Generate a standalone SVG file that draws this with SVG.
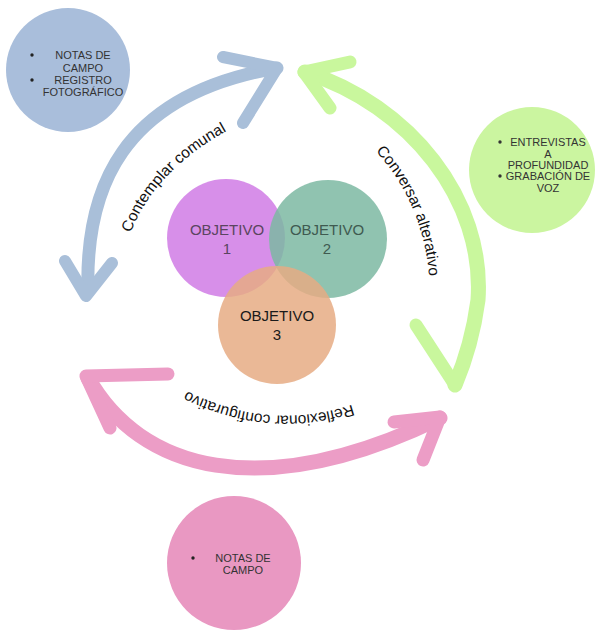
<svg xmlns="http://www.w3.org/2000/svg" width="596" height="632" viewBox="0 0 596 632">
<style>
.arr{fill:none;stroke-linecap:round;stroke-linejoin:round}
.blue{stroke:#a9bfd9}
.green{stroke:#c9f79d}
.pink{stroke:#ec9dc6}
.lbl{font-family:"Liberation Sans",Arial,sans-serif;font-size:15.5px;fill:#111}
.obj{font-family:"Liberation Sans",Arial,sans-serif;font-size:15px;text-anchor:middle}
.note{font-family:"Liberation Sans",Arial,sans-serif;font-size:11px;text-anchor:middle;fill:#333}
</style>
<defs>
<path id="pBlue" d="M 126,247 Q 148,170 240,124"/>
<path id="pGreen" d="M 369,144 Q 425,200 430,286"/>
<path id="pPink" d="M 370,398 Q 270,440 170,382"/>
</defs>
<rect width="596" height="632" fill="#fff"/>

<g id="note-blue">
<circle cx="68" cy="70" r="62" fill="#a9bedb"/>
<circle cx="32" cy="55" r="1.7" fill="#222"/>
<circle cx="32" cy="80" r="1.7" fill="#222"/>
<text class="note" x="83" y="59">NOTAS DE</text>
<text class="note" x="83" y="72">CAMPO</text>
<text class="note" x="83" y="84">REGISTRO</text>
<text class="note" x="83" y="96">FOTOGRÁFICO</text>
</g>

<g id="note-green">
<circle cx="532" cy="170" r="63" fill="#cbf5a0"/>
<circle cx="500" cy="142" r="1.7" fill="#333"/>
<circle cx="500" cy="176" r="1.7" fill="#333"/>
<text class="note" x="548" y="146">ENTREVISTAS</text>
<text class="note" x="548" y="157.5">A</text>
<text class="note" x="548" y="168.5">PROFUNDIDAD</text>
<text class="note" x="548" y="180">GRABACIÓN DE</text>
<text class="note" x="548" y="192">VOZ</text>
</g>

<g id="note-pink">
<circle cx="234" cy="563" r="67" fill="#e998c2"/>
<circle cx="193" cy="558" r="1.7" fill="#222"/>
<text class="note" x="243" y="562">NOTAS DE</text>
<text class="note" x="243" y="574">CAMPO</text>
</g>

<g id="connectors">
<g id="arrow-blue">
<path class="arr blue" stroke-width="13" d="M 88,292 C 85,190 120,95 277,68"/>
<path class="arr blue" stroke-width="12" d="M 223,57 L 277,68 L 243,123"/>
<path class="arr blue" stroke-width="12" d="M 65,261 L 86,296 L 112,263"/>
</g>
<g id="arrow-green">
<path class="arr green" stroke-width="15" d="M 305,72 C 410,105 485,200 478,300 Q 472,345 455,385"/>
<path class="arr green" stroke-width="13" d="M 350,62 L 304,72 L 330,108"/>
<path class="arr green" stroke-width="13" d="M 416,325 L 455,385"/>
</g>
<g id="arrow-pink">
<path class="arr pink" stroke-width="15" d="M 88,378 C 140,470 260,505 440,418"/>
<path class="arr pink" stroke-width="13" d="M 168,374 L 86,376 L 110,428"/>
<path class="arr pink" stroke-width="13" d="M 394,422 L 440,417 L 423,460"/>
</g>
<text class="lbl"><textPath href="#pBlue" startOffset="50%" text-anchor="middle">Contemplar comunal</textPath></text>
<text class="lbl"><textPath href="#pGreen" startOffset="50%" text-anchor="middle">Conversar alterativo</textPath></text>
<text class="lbl"><textPath href="#pPink" startOffset="50%" text-anchor="middle">Reflexionar configurativo</textPath></text>
</g>

<g id="objetivo-1">
<circle cx="226" cy="238" r="59" fill="#d17fe6" fill-opacity="0.88"/>
</g>
<g id="objetivo-2">
<circle cx="328" cy="239" r="59" fill="#7cb9a2" fill-opacity="0.85"/>
</g>
<g id="objetivo-3">
<circle cx="277" cy="325" r="59" fill="#e6ab84" fill-opacity="0.85"/>
</g>
<g id="objetivo-labels">
<text class="obj" x="227" y="235" fill="#5a4560">OBJETIVO</text>
<text class="obj" x="227" y="254" fill="#5a4560">1</text>
<text class="obj" x="327" y="235" fill="#3f5a50">OBJETIVO</text>
<text class="obj" x="327" y="254" fill="#3f5a50">2</text>
<text class="obj" x="277" y="321" fill="#1a1a1a">OBJETIVO</text>
<text class="obj" x="277" y="340" fill="#1a1a1a">3</text>
</g>
</svg>
